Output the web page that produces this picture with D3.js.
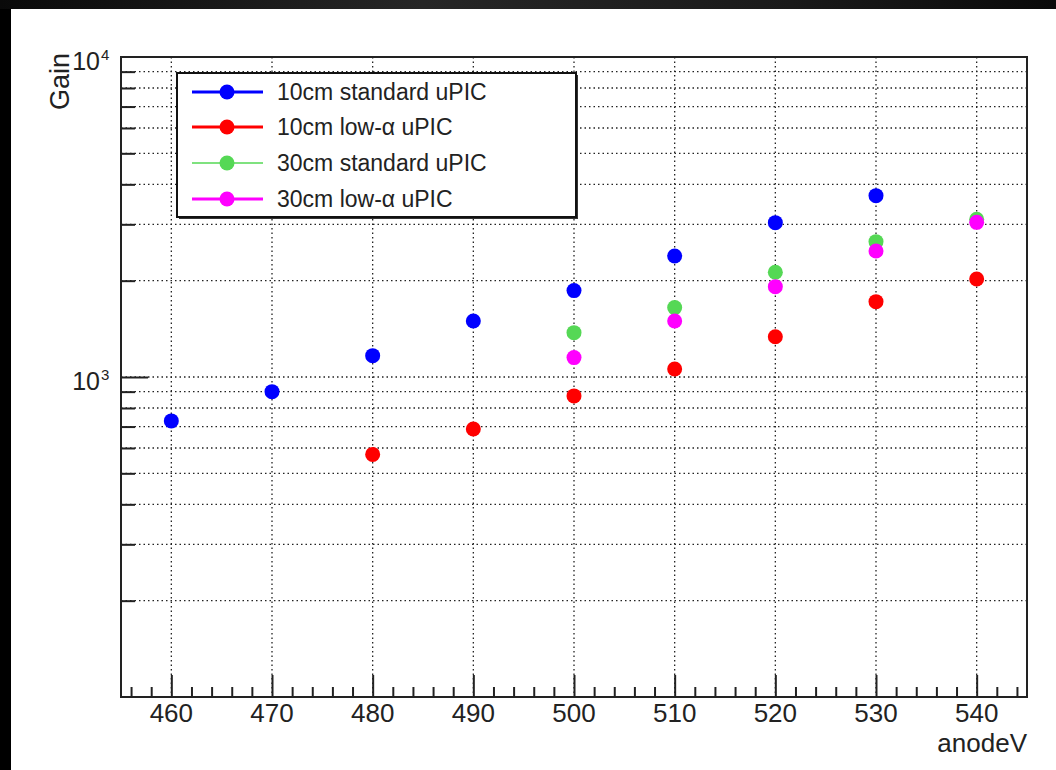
<!DOCTYPE html>
<html>
<head>
<meta charset="utf-8">
<script src="https://cdn.jsdelivr.net/npm/d3@7"></script>
<style>
  html, body { margin: 0; padding: 0; background: #000; }
  svg { display: block; }
  text { font-family: "Liberation Sans", Arial, Helvetica, sans-serif; fill: #222; }
</style>
</head>
<body>
<svg id="chart" width="1056" height="770"></svg>
<script>
// ---- data ----
const seriesNames = ["10cm standard uPIC", "10cm low-\u03B1 uPIC", "30cm standard uPIC", "30cm low-\u03B1 uPIC"];
const seriesColors = ["#0000ff", "#ff0000", "#55d855", "#ff00ff"];
const legendLineWidths = [3, 3, 1.6, 3];

const x10std = [460, 470, 480, 490, 500, 510, 520, 530];
const y10std = [729, 900, 1166, 1496, 1862, 2388, 3036, 3687];

const x10low = [480, 490, 500, 510, 520, 530, 540];
const y10low = [573, 688, 873, 1059, 1336, 1720, 2024];

const x30std = [500, 510, 520, 530, 540];
const y30std = [1376, 1648, 2125, 2648, 3110];

const x30low = [500, 510, 520, 530, 540];
const y30low = [1150, 1496, 1916, 2475, 3043];

const xMajorTicks = [460, 470, 480, 490, 500, 510, 520, 530, 540];
const xMinorTicks = [456, 458, 462, 464, 466, 468, 472, 474, 476, 478, 482, 484, 486, 488,
  492, 494, 496, 498, 502, 504, 506, 508, 512, 514, 516, 518, 522, 524, 526, 528,
  532, 534, 536, 538, 542, 544];
const yMinorTicks = [200, 300, 400, 500, 600, 700, 800, 900, 2000, 3000, 4000, 5000, 6000, 7000, 8000, 9000];
const yMajorTicks = [1000];
const yDecadeLabels = [{v: 1000, exp: "3"}, {v: 10000, exp: "4"}];
const xTitle = "anodeV";
const yTitle = "Gain";

const xDomain = [455, 545];
const yDomain = [100, 10000];

const series = [
  {x: x10std, y: y10std},
  {x: x10low, y: y10low},
  {x: x30std, y: y30std},
  {x: x30low, y: y30low}
];

// ---- layout ----
const svg = d3.select("#chart");
const W = 1056, H = 770;
const plot = {left: 121, top: 57, right: 1027, bottom: 697};

// background
const defs = svg.append("defs");
const grad = defs.append("linearGradient").attr("id", "topg").attr("x1", 0).attr("x2", 1).attr("y1", 0).attr("y2", 0);
grad.append("stop").attr("offset", "0%").attr("stop-color", "#0a0a0a");
grad.append("stop").attr("offset", "40%").attr("stop-color", "#262626");
grad.append("stop").attr("offset", "75%").attr("stop-color", "#1a1a1a");
grad.append("stop").attr("offset", "100%").attr("stop-color", "#0a0a0a");
svg.append("rect").attr("x", 0).attr("y", 0).attr("width", W).attr("height", H).attr("fill", "#000");
svg.append("rect").attr("x", 0).attr("y", 0).attr("width", W).attr("height", 9).attr("fill", "url(#topg)");
svg.append("rect").attr("x", 11).attr("y", 9).attr("width", W - 11).attr("height", H - 9).attr("fill", "#fff");

const x = d3.scaleLinear().domain(xDomain).range([plot.left, plot.right]);
const y = d3.scaleLog().domain(yDomain).range([plot.bottom, plot.top]);

// grid
const grid = svg.append("g").attr("stroke", "#222").attr("stroke-width", 1.3).attr("stroke-dasharray", "1.5,3");
grid.selectAll("line.gx").data(xMajorTicks).enter().append("line")
  .attr("x1", d => x(d)).attr("x2", d => x(d)).attr("y1", plot.top).attr("y2", plot.bottom);
grid.selectAll("line.gy").data(yMinorTicks.concat(yMajorTicks)).enter().append("line")
  .attr("y1", d => y(d)).attr("y2", d => y(d)).attr("x1", plot.left).attr("x2", plot.right);

// x axis (ticks drawn inward, as ROOT does)
const xAxisG = svg.append("g").attr("transform", `translate(0,${plot.bottom})`);
xAxisG.call(d3.axisTop(x).tickValues(xMinorTicks).tickSize(10).tickFormat(""))
  .call(g => g.select(".domain").remove());
xAxisG.selectAll(".tick line").attr("stroke", "#222").attr("stroke-width", 2);
const xAxisMaj = svg.append("g").attr("transform", `translate(0,${plot.bottom})`);
xAxisMaj.call(d3.axisTop(x).tickValues(xMajorTicks).tickSize(22).tickFormat(""))
  .call(g => g.select(".domain").remove());
xAxisMaj.selectAll(".tick line").attr("stroke", "#222").attr("stroke-width", 2);
// x labels
svg.append("g").selectAll("text").data(xMajorTicks).enter().append("text")
  .attr("x", d => x(d)).attr("y", 722).attr("text-anchor", "middle")
  .attr("font-size", 26).text(d => d3.format("d")(d));

// y axis
const yAxisMin = svg.append("g").attr("transform", `translate(${plot.left},0)`);
yAxisMin.call(d3.axisRight(y).tickValues(yMinorTicks).tickSize(14).tickFormat(""))
  .call(g => g.select(".domain").remove());
yAxisMin.selectAll(".tick line").attr("stroke", "#222").attr("stroke-width", 2);
const yAxisMaj = svg.append("g").attr("transform", `translate(${plot.left},0)`);
yAxisMaj.call(d3.axisRight(y).tickValues(yMajorTicks).tickSize(27).tickFormat(""))
  .call(g => g.select(".domain").remove());
yAxisMaj.selectAll(".tick line").attr("stroke", "#222").attr("stroke-width", 2);

// decade labels
yDecadeLabels.forEach(d => {
  svg.append("text").attr("x", 100).attr("y", y(d.v) + 13).attr("text-anchor", "end").attr("font-size", 25).text("10");
  svg.append("text").attr("x", 101).attr("y", y(d.v) + 3).attr("font-size", 15).text(d.exp);
});

// frame
svg.append("rect").attr("x", plot.left).attr("y", plot.top)
  .attr("width", plot.right - plot.left).attr("height", plot.bottom - plot.top)
  .attr("fill", "none").attr("stroke", "#222").attr("stroke-width", 2);

// axis titles
svg.append("text").attr("x", 1027).attr("y", 752).attr("text-anchor", "end").attr("font-size", 26).text(xTitle);
svg.append("text").attr("transform", `translate(69,53) rotate(-90)`).attr("text-anchor", "end").attr("font-size", 27).text(yTitle);

// data points
series.forEach((s, i) => {
  svg.append("g").selectAll("circle").data(s.x.map((xv, j) => [xv, s.y[j]])).enter().append("circle")
    .attr("cx", d => x(d[0])).attr("cy", d => y(d[1])).attr("r", 7.5)
    .attr("fill", seriesColors[i]);
});

// legend
const leg = {x: 177, y: 73, w: 399, h: 144};
svg.append("rect").attr("x", leg.x + 2).attr("y", leg.y + 2).attr("width", leg.w).attr("height", leg.h).attr("fill", "#333");
svg.append("rect").attr("x", leg.x).attr("y", leg.y).attr("width", leg.w).attr("height", leg.h)
  .attr("fill", "#fff").attr("stroke", "#111").attr("stroke-width", 2);
const rowY = [92, 127, 163, 199];
seriesNames.forEach((name, i) => {
  const cy = rowY[i];
  svg.append("line").attr("x1", 192).attr("x2", 263).attr("y1", cy).attr("y2", cy)
    .attr("stroke", seriesColors[i]).attr("stroke-width", legendLineWidths[i]);
  svg.append("circle").attr("cx", 227).attr("cy", cy).attr("r", 7.5).attr("fill", seriesColors[i]);
  svg.append("text").attr("x", 277).attr("y", cy + 8).attr("font-size", 23).text(name);
});
</script>
</body>
</html>
